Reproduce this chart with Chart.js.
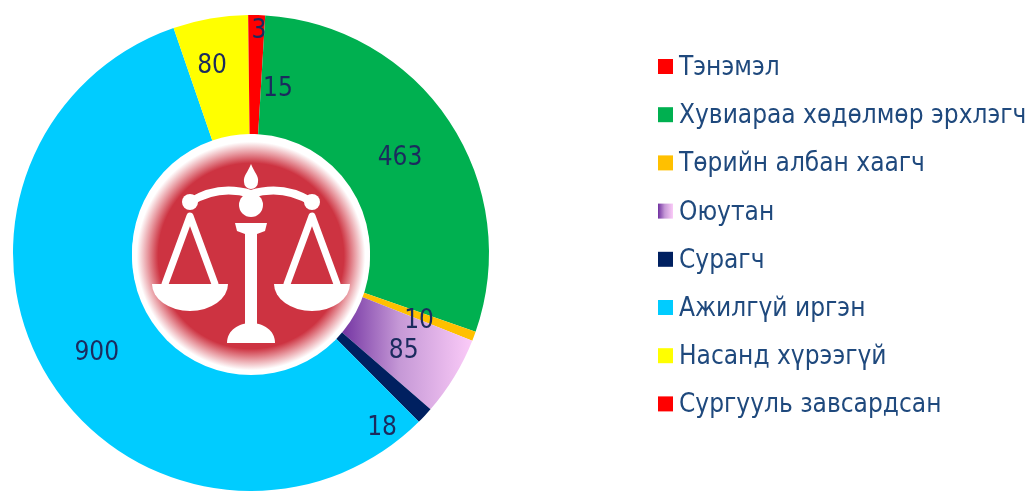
<!DOCTYPE html>
<html>
<head>
<meta charset="utf-8">
<script src="https://cdn.jsdelivr.net/npm/chart.js@4.4.1/dist/chart.umd.min.js"></script>
<style>
  html, body { margin: 0; padding: 0; background: #fff; overflow: hidden; }
  #wrap { width: 1027px; height: 491px; position: relative; }
</style>
</head>
<body>
<div id="wrap"><canvas id="chart" width="1027" height="491"></canvas></div>
<script>
const labels = [
    "Тэнэмэл",
    "Хувиараа хөдөлмөр эрхлэгч",
    "Төрийн албан хаагч",
    "Оюутан",
    "Сурагч",
    "Ажилгүй иргэн",
    "Насанд хүрээгүй",
    "Сургууль завсардсан"
];
const values = [15, 463, 10, 85, 18, 900, 80, 3];
const colors = ["#FF0000", "#00B050", "#FFC000", "gradient", "#002060", "#00CCFF", "#FFFF00", "#FF0000"];

// where each value label sits: angle shift (deg) and position across the ring (0 inner .. 1 outer)
const labelPlace = [
    { da: 7.6, r: 0.40 },
    { da: 0.8, r: 0.49 },
    { da: 1.2, r: 0.52 },
    { da: 1.1, r: 0.52 },
    { da: 9.9, r: 0.83 },
    { da: -0.8, r: 0.54 },
    { da: -1.9, r: 0.61 },
    { da: 2.4, r: 0.87 }
];

const FONT = '"DejaVu Sans Condensed", "DejaVu Sans", sans-serif';
const LABEL_COLOR = "#1B2B5E";
const LEGEND_COLOR = "#1F497D";

function studentGradient(ctx, x0, x1) {
    const g = ctx.createLinearGradient(x0, 0, x1, 0);
    g.addColorStop(0, "#7030A0");
    g.addColorStop(0.45, "#C598D6");
    g.addColorStop(1, "#FBCBF8");
    return g;
}

function sliceColor(c) {
    const col = colors[c.dataIndex];
    if (col !== "gradient") return col;
    const area = c.chart.chartArea;
    if (!area) return "#C598D6";
    const cx = (area.left + area.right) / 2;
    const R = Math.min(area.width, area.height) / 2;
    return studentGradient(c.chart.ctx, cx + 0.37 * R, cx + 0.93 * R);
}

// centre picture: blurred red disc with white scales
function drawEmblem(ctx, cx, cy, r) {
    ctx.save();
    const g = ctx.createRadialGradient(cx, cy, 0, cx, cy, r);
    g.addColorStop(0, "#CD3341");
    g.addColorStop(0.78, "#CD3341");
    g.addColorStop(0.87, "#E89AA1");
    g.addColorStop(0.96, "#FFFFFF");
    g.addColorStop(1, "#FFFFFF");
    ctx.fillStyle = g;
    ctx.beginPath();
    ctx.arc(cx, cy, r, 0, Math.PI * 2);
    ctx.fill();

    ctx.translate(cx, cy);
    ctx.fillStyle = "#fff";
    ctx.strokeStyle = "#fff";
    ctx.lineCap = "round";
    ctx.lineJoin = "round";

    // finial
    ctx.beginPath();
    ctx.moveTo(0, -92);
    ctx.bezierCurveTo(3, -84, 8, -80, 7, -74);
    ctx.arc(0, -74, 7, 0, Math.PI, false);
    ctx.bezierCurveTo(-8, -80, -3, -84, 0, -92);
    ctx.fill();

    // beam
    ctx.lineWidth = 8;
    ctx.beginPath();
    ctx.moveTo(-61, -54);
    ctx.quadraticCurveTo(-32, -72, 0, -62);
    ctx.quadraticCurveTo(32, -72, 61, -54);
    ctx.stroke();

    // knobs and hub
    [[-61, -54, 8], [61, -54, 8], [0, -51, 12]].forEach(k => {
        ctx.beginPath();
        ctx.arc(k[0], k[1], k[2], 0, Math.PI * 2);
        ctx.fill();
    });

    // column cap, shaft, base
    ctx.beginPath();
    ctx.moveTo(-16, -33);
    ctx.lineTo(16, -33);
    ctx.lineTo(14, -25);
    ctx.lineTo(6, -22);
    ctx.lineTo(6, 72);
    ctx.lineTo(-6, 72);
    ctx.lineTo(-6, -22);
    ctx.lineTo(-14, -25);
    ctx.closePath();
    ctx.fill();
    ctx.beginPath();
    ctx.moveTo(-24, 87);
    ctx.bezierCurveTo(-24, 74, -12, 67, 0, 67);
    ctx.bezierCurveTo(12, 67, 24, 74, 24, 87);
    ctx.closePath();
    ctx.fill();

    // pans with strings
    [-1, 1].forEach(s => {
        ctx.lineWidth = 7;
        ctx.beginPath();
        ctx.moveTo(s * 86, 28);
        ctx.lineTo(s * 61, -40);
        ctx.lineTo(s * 36, 28);
        ctx.stroke();
        ctx.beginPath();
        ctx.ellipse(s * 61, 28, 38, 27, 0, 0, Math.PI, false);
        ctx.closePath();
        ctx.fill();
    });
    ctx.restore();
}

const emblemPlugin = {
    id: "emblem",
    afterDatasetsDraw(chart) {
        const arc = chart.getDatasetMeta(0).data[0];
        if (!arc) return;
        drawEmblem(chart.ctx, arc.x, arc.y + 3, arc.innerRadius);
    }
};

const valueLabels = {
    id: "valueLabels",
    afterDatasetsDraw(chart) {
        const ctx = chart.ctx;
        const meta = chart.getDatasetMeta(0);
        ctx.save();
        ctx.font = "26px " + FONT;
        ctx.fillStyle = LABEL_COLOR;
        ctx.textAlign = "center";
        ctx.textBaseline = "middle";
        meta.data.forEach((a, i) => {
            const p = a.getProps(["x", "y", "startAngle", "endAngle", "innerRadius", "outerRadius"], true);
            const ang = (p.startAngle + p.endAngle) / 2 + labelPlace[i].da * Math.PI / 180;
            const rr = p.innerRadius + (p.outerRadius - p.innerRadius) * labelPlace[i].r;
            ctx.fillText(String(values[i]), p.x + Math.cos(ang) * rr, p.y + Math.sin(ang) * rr + 1);
        });
        ctx.restore();
    }
};

const sideLegend = {
    id: "sideLegend",
    afterDraw(chart) {
        const ctx = chart.ctx;
        const x0 = 658, y0 = 75, step = 48.2, box = 15;
        ctx.save();
        ctx.font = "26px " + FONT;
        ctx.textBaseline = "alphabetic";
        labels.forEach((lab, i) => {
            const y = y0 + i * step;
            ctx.fillStyle = colors[i] === "gradient" ? studentGradient(ctx, x0, x0 + box) : colors[i];
            ctx.fillRect(x0, y - 16, box, box);
            ctx.fillStyle = LEGEND_COLOR;
            ctx.fillText(lab, x0 + 21, y);
        });
        ctx.restore();
    }
};

new Chart(document.getElementById("chart"), {
    type: "doughnut",
    data: {
        labels: labels,
        datasets: [{
            data: values,
            backgroundColor: sliceColor,
            borderWidth: 0
        }]
    },
    options: {
        responsive: false,
        animation: false,
        cutout: "50%",
        layout: { padding: { left: 13, right: 538, top: 15, bottom: 0 } },
        plugins: {
            legend: { display: false },
            tooltip: { enabled: false }
        }
    },
    plugins: [emblemPlugin, valueLabels, sideLegend]
});
</script>
</body>
</html>
